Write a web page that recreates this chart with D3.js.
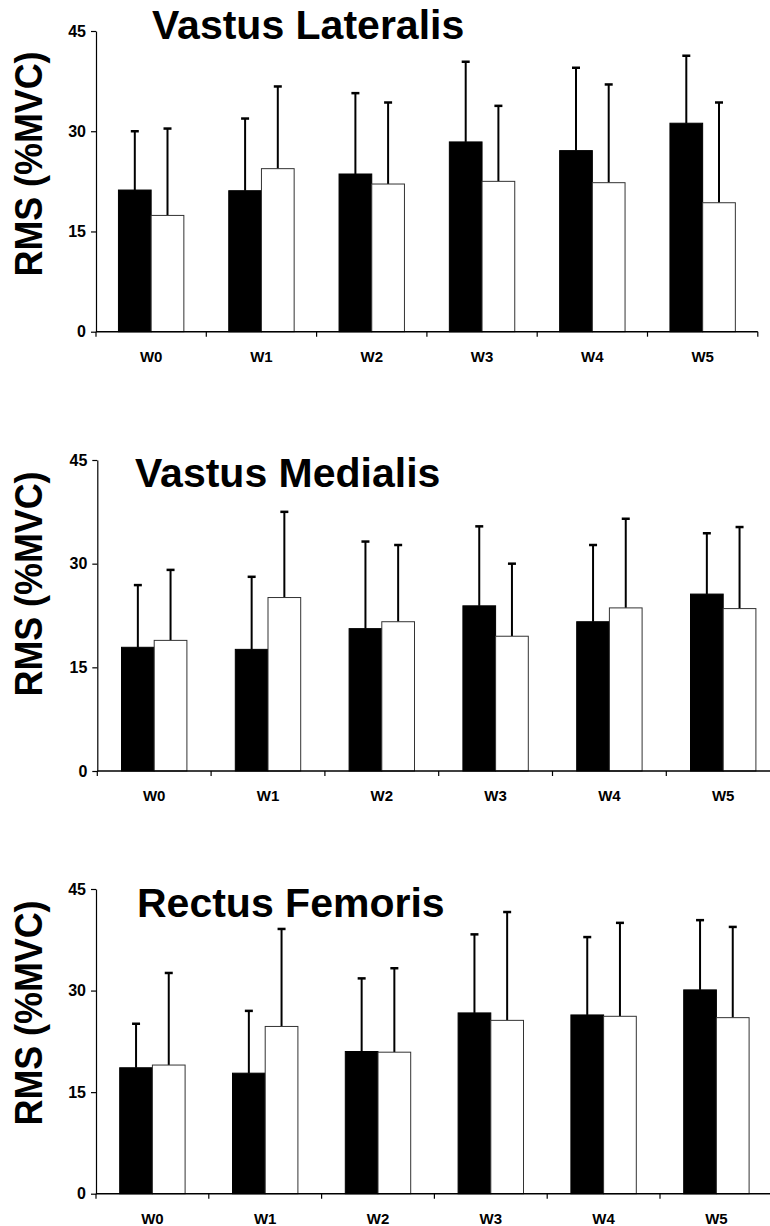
<!DOCTYPE html>
<html>
<head>
<meta charset="utf-8">
<script src="https://cdn.jsdelivr.net/npm/d3@7"></script>
<style>
  html, body { margin: 0; padding: 0; background: #fff; }
  svg { display: block; }
  text { font-family: "Liberation Sans", Arial, Helvetica, sans-serif; font-weight: bold; fill: #000; }
</style>
</head>
<body>
<svg id="chart" width="770" height="1226"></svg>
<script>
// Weeks of the protocol
const categories = ["W0", "W1", "W2", "W3", "W4", "W5"];
const yTicks = [0, 15, 30, 45];
const groups = ["black", "white"];

// Vastus Lateralis: means and SD (upper error bar) for the two groups
const vlBlackMean = [21.2, 21.1, 23.6, 28.4, 27.1, 31.2];
const vlBlackSD   = [8.8, 10.8, 12.1, 12.0, 12.4, 10.1];
const vlWhiteMean = [17.4, 24.4, 22.1, 22.5, 22.3, 19.3];
const vlWhiteSD   = [13.0, 12.3, 12.2, 11.3, 14.7, 15.0];

// Vastus Medialis
const vmBlackMean = [17.9, 17.6, 20.6, 23.9, 21.6, 25.6];
const vmBlackSD   = [9.0, 10.5, 12.6, 11.5, 11.1, 8.8];
const vmWhiteMean = [18.9, 25.1, 21.6, 19.5, 23.6, 23.5];
const vmWhiteSD   = [10.2, 12.4, 11.1, 10.5, 12.9, 11.8];

// Rectus Femoris
const rfBlackMean = [18.6, 17.8, 21.0, 26.7, 26.4, 30.1];
const rfBlackSD   = [6.5, 9.2, 10.8, 11.6, 11.5, 10.3];
const rfWhiteMean = [19.0, 24.7, 20.9, 25.6, 26.2, 26.0];
const rfWhiteSD   = [13.6, 14.4, 12.4, 16.0, 13.8, 13.4];

const yLabel = "RMS (%MVC)";

// Panel layout (pixel frames for each of the three stacked charts)
const panels = [
  { title: "Vastus Lateralis", black: [vlBlackMean, vlBlackSD], white: [vlWhiteMean, vlWhiteSD],
    x0: 96, step: 110.3, top: 31, bottom: 331.7, titleX: 152, titleY: 39, labelY: 164 },
  { title: "Vastus Medialis", black: [vmBlackMean, vmBlackSD], white: [vmWhiteMean, vmWhiteSD],
    x0: 97.3, step: 113.8, top: 460, bottom: 771, titleX: 135, titleY: 487, labelY: 584 },
  { title: "Rectus Femoris", black: [rfBlackMean, rfBlackSD], white: [rfWhiteMean, rfWhiteSD],
    x0: 96, step: 112.8, top: 889, bottom: 1193.7, titleX: 137, titleY: 917, labelY: 1013 }
];

const svg = d3.select("#chart");

panels.forEach(p => {
  const g = svg.append("g");
  const x = d3.scaleBand().domain(categories)
    .range([p.x0, p.x0 + p.step * categories.length]).padding(0);
  const bw = x.bandwidth();
  const pairHalf = 32.7;
  const xg = d3.scaleBand().domain(groups).range([bw / 2 - pairHalf, bw / 2 + pairHalf]).padding(0);
  const y = d3.scaleLinear().domain([0, 45]).range([p.bottom, p.top]);

  const rows = [];
  categories.forEach((c, i) => {
    rows.push({ c, grp: "black", mean: p.black[0][i], sd: p.black[1][i] });
    rows.push({ c, grp: "white", mean: p.white[0][i], sd: p.white[1][i] });
  });

  // error bars (upper only) drawn behind the bars
  const eb = g.append("g");
  rows.forEach(d => {
    const cx = x(d.c) + xg(d.grp) + xg.bandwidth() / 2;
    eb.append("line").attr("x1", cx).attr("x2", cx)
      .attr("y1", y(d.mean)).attr("y2", y(d.mean + d.sd))
      .attr("stroke", "#000").attr("stroke-width", 2);
    eb.append("line").attr("x1", cx - 4).attr("x2", cx + 4)
      .attr("y1", y(d.mean + d.sd)).attr("y2", y(d.mean + d.sd))
      .attr("stroke", "#000").attr("stroke-width", 2.5);
  });

  // bars
  g.append("g").selectAll("rect").data(rows).join("rect")
    .attr("x", d => x(d.c) + xg(d.grp))
    .attr("width", xg.bandwidth())
    .attr("y", d => y(d.mean))
    .attr("height", d => y(0) - y(d.mean))
    .attr("fill", d => d.grp === "black" ? "#000" : "#fff")
    .attr("stroke", d => d.grp === "black" ? "#000" : "#333")
    .attr("stroke-width", 1);

  // y axis
  const ya = g.append("g").attr("transform", `translate(${p.x0},0)`)
    .call(d3.axisLeft(y).tickValues(yTicks).tickSize(5).tickPadding(5).tickSizeOuter(0));
  ya.select(".domain").attr("stroke", "#000").attr("stroke-width", 1.2);
  ya.selectAll(".tick line").attr("stroke", "#000").attr("stroke-width", 1.2);
  ya.selectAll(".tick text").style("font-size", "16px").style("font-weight", "bold")
    .attr("font-family", null);

  // x axis: ticks at category boundaries
  const boundaries = d3.range(categories.length + 1).map(i => p.x0 + i * p.step);
  const xa = g.append("g");
  xa.append("line").attr("x1", p.x0).attr("x2", boundaries[boundaries.length - 1])
    .attr("y1", y(0)).attr("y2", y(0)).attr("stroke", "#000").attr("stroke-width", 1.5);
  xa.selectAll("line.tk").data(boundaries).join("line").attr("class", "tk")
    .attr("x1", d => d).attr("x2", d => d)
    .attr("y1", y(0)).attr("y2", y(0) + 5)
    .attr("stroke", "#000").attr("stroke-width", 1.2);
  xa.selectAll("text").data(categories).join("text")
    .attr("x", d => x(d) + bw / 2)
    .attr("y", y(0) + 30)
    .attr("text-anchor", "middle")
    .style("font-size", "15px")
    .text(d => d);

  // title
  g.append("text").attr("x", p.titleX).attr("y", p.titleY)
    .style("font-size", "41px").text(p.title);

  // y label
  g.append("text")
    .attr("transform", `translate(41.5,${p.labelY}) rotate(-90)`)
    .attr("text-anchor", "middle")
    .attr("textLength", 225).attr("lengthAdjust", "spacingAndGlyphs")
    .style("font-size", "39px")
    .text(yLabel);
});
</script>
</body>
</html>
